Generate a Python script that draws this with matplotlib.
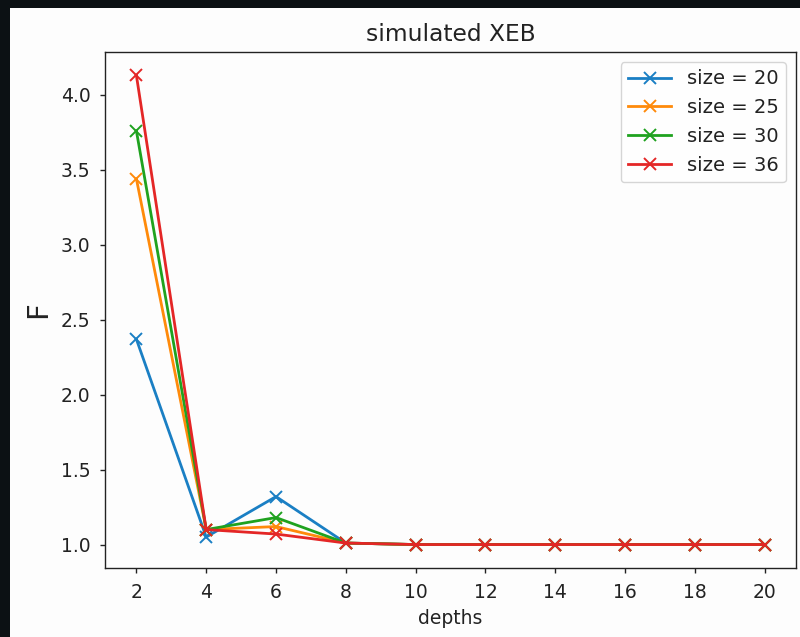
import matplotlib
matplotlib.use("Agg")
import matplotlib.pyplot as plt
from matplotlib.patches import Rectangle

depths = [2, 4, 6, 8, 10, 12, 14, 16, 18, 20]
sizes = [20, 25, 30, 36]
f_size20 = [2.37, 1.05, 1.32, 1.01, 1.0, 1.0, 1.0, 1.0, 1.0, 1.0]
f_size25 = [3.44, 1.10, 1.12, 1.01, 1.0, 1.0, 1.0, 1.0, 1.0, 1.0]
f_size30 = [3.76, 1.10, 1.18, 1.01, 1.0, 1.0, 1.0, 1.0, 1.0, 1.0]
f_size36 = [4.13, 1.10, 1.07, 1.01, 1.0, 1.0, 1.0, 1.0, 1.0, 1.0]
series = [f_size20, f_size25, f_size30, f_size36]
colors = ["#1a7fc4", "#ff8a0a", "#1fa21f", "#e42626"]

fig = plt.figure(figsize=(8, 6.37), dpi=100, facecolor="#0c1114")
# white window area inside the dark frame (top and left edges stay dark)
fig.patches.append(Rectangle((10 / 800, 0), 790 / 800, 629 / 637,
                             transform=fig.transFigure, facecolor="#fdfdfd",
                             edgecolor="none", zorder=-10))
ax = fig.add_axes([105 / 800, 69 / 637, 691 / 800, 516 / 637])
ax.set_facecolor("#fdfdfd")

for vals, sz, c in zip(series, sizes, colors):
    ax.plot(depths, vals, marker="x", color=c, linewidth=2.0,
            markersize=8.4, markeredgewidth=1.4, label=f"size = {sz}")

ax.set_xticks(depths)
ax.tick_params(labelsize=13.5, length=3.5, width=1.0, pad=7, colors="#222222")
for sp in ax.spines.values():
    sp.set_linewidth(1.0)
    sp.set_color("#222222")
ax.set_title("simulated XEB", fontsize=16.8, pad=8, color="#222222")
ax.set_xlabel("depths", fontsize=13.5, labelpad=5, color="#222222")
ax.set_ylabel("F", fontsize=21, labelpad=6, color="#222222")
leg = ax.legend(loc="upper right", fontsize=14, handlelength=2.2,
                borderaxespad=0.5, framealpha=0.8)
for t in leg.get_texts():
    t.set_color("#222222")

fig.savefig("out.png", dpi=100, facecolor=fig.get_facecolor())
